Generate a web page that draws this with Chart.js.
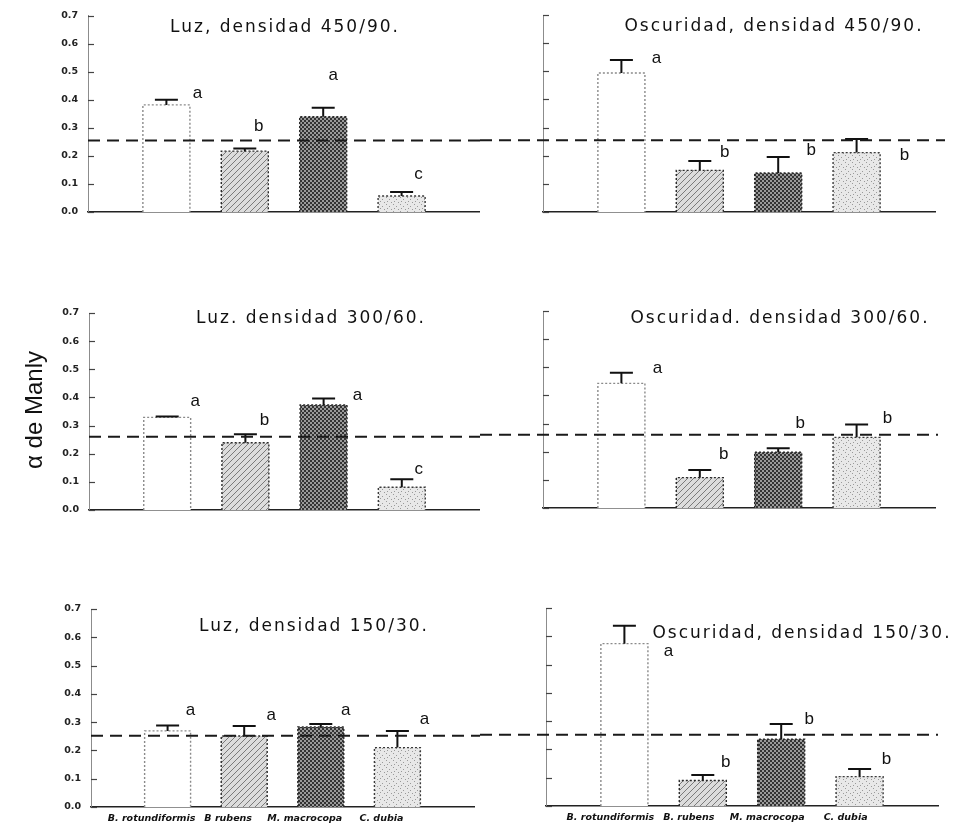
<!DOCTYPE html>
<html>
<head>
<meta charset="utf-8">
<title>alfa de Manly</title>
<script src="https://cdn.jsdelivr.net/npm/chart.js@4.4.1/dist/chart.umd.min.js"></script>
<style>
  html, body { margin: 0; padding: 0; background: #fff; }
  #page { position: relative; width: 960px; height: 824px; overflow: hidden; background: #fff; }
  #page canvas { position: absolute; }
</style>
</head>
<body>
<div id="page">
  <canvas id="luz450" width="480" height="240" style="left:0;top:0"></canvas>
  <canvas id="osc450" width="480" height="240" style="left:480px;top:0"></canvas>
  <canvas id="luz300" width="480" height="240" style="left:0;top:290px"></canvas>
  <canvas id="osc300" width="480" height="240" style="left:480px;top:290px"></canvas>
  <canvas id="luz150" width="480" height="254" style="left:0;top:570px"></canvas>
  <canvas id="osc150" width="480" height="254" style="left:480px;top:570px"></canvas>
</div>
<script>
// species on the x axis (left and right columns are printed slightly differently)
const speciesLeft = ['B. rotundiformis', 'B rubens', 'M. macrocopa', 'C. dubia'];
const speciesRight = ['B. rotundiformis', 'B. rubens', 'M. macrocopa', 'C. dubia'];
const yTickLabels = ['0.0', '0.1', '0.2', '0.3', '0.4', '0.5', '0.6', '0.7'];

// mean alpha and upper error for each species
const luz450 = [0.382, 0.217, 0.340, 0.057];
const luz450Err = [0.018, 0.009, 0.032, 0.014];
const luz450Letters = ['a', 'b', 'a', 'c'];

const osc450 = [0.494, 0.148, 0.139, 0.211];
const osc450Err = [0.046, 0.033, 0.056, 0.048];
const osc450Letters = ['a', 'b', 'b', 'b'];

const luz300 = [0.329, 0.239, 0.373, 0.081];
const luz300Err = [0.003, 0.030, 0.023, 0.028];
const luz300Letters = ['a', 'b', 'a', 'c'];

const osc300 = [0.443, 0.108, 0.198, 0.251];
const osc300Err = [0.038, 0.027, 0.014, 0.046];
const osc300Letters = ['a', 'b', 'b', 'b'];

const luz150 = [0.269, 0.251, 0.283, 0.210];
const luz150Err = [0.019, 0.035, 0.010, 0.059];
const luz150Letters = ['a', 'a', 'a', 'a'];

const osc150 = [0.574, 0.090, 0.236, 0.104];
const osc150Err = [0.063, 0.020, 0.054, 0.027];
const osc150Letters = ['a', 'b', 'b', 'b'];

// dashed reference (neutral selection) for each row
const refRow = [0.255, 0.26, 0.252];

const FONT = '"Liberation Sans", Arial, Helvetica, sans-serif';
const WIDEFONT = '"DejaVu Sans", Verdana, sans-serif';

// fill patterns for the four species
function makePattern(size, draw) {
  const c = document.createElement('canvas');
  c.width = size; c.height = size;
  const g = c.getContext('2d');
  draw(g, size);
  return g.createPattern(c, 'repeat');
}
const hatchFill = makePattern(6, (g, s) => {
  g.fillStyle = '#dcdcdc'; g.fillRect(0, 0, s, s);
  g.strokeStyle = '#7a7a7a'; g.lineWidth = 1;
  g.beginPath();
  g.moveTo(0, s); g.lineTo(s, 0);
  g.moveTo(-1, 1); g.lineTo(1, -1);
  g.moveTo(s - 1, s + 1); g.lineTo(s + 1, s - 1);
  g.stroke();
});
const darkFill = makePattern(4, (g, s) => {
  g.fillStyle = '#9a9a9a'; g.fillRect(0, 0, s, s);
  g.fillStyle = '#333333';
  g.fillRect(0, 0, 2, 2); g.fillRect(2, 2, 2, 2);
});
const stippleFill = makePattern(7, (g, s) => {
  g.fillStyle = '#e8e8e8'; g.fillRect(0, 0, s, s);
  g.fillStyle = '#9a9a9a';
  g.fillRect(1, 1, 1, 1); g.fillRect(4, 3, 1, 1); g.fillRect(2, 5, 1, 1); g.fillRect(6, 6, 1, 1);
});
const barFills = ['rgba(0,0,0,0)', '#ffffff', hatchFill, darkFill, stippleFill, 'rgba(0,0,0,0)'];
const barEdges = [null, '#8a8a8a', '#2a2a2a', '#2a2a2a', '#3a3a3a', null];

const pad = arr => [null, ...arr, null];

// outlines, error bars, letters, reference line, inward ticks, titles
const panelDecor = {
  id: 'panelDecor',
  afterDatasetsDraw(chart, args, opts) {
    const ctx = chart.ctx;
    const area = chart.chartArea;
    const y = chart.scales.y;
    const ds = chart.data.datasets[0];
    const meta = chart.getDatasetMeta(0);
    ctx.save();

    // dotted bar outlines
    meta.data.forEach((bar, i) => {
      if (ds.data[i] == null) return;
      const half = bar.width / 2;
      ctx.beginPath();
      ctx.setLineDash([2, 2]);
      ctx.lineWidth = 1.4;
      ctx.strokeStyle = barEdges[i];
      ctx.moveTo(bar.x - half, bar.base);
      ctx.lineTo(bar.x - half, bar.y);
      ctx.lineTo(bar.x + half, bar.y);
      ctx.lineTo(bar.x + half, bar.base);
      ctx.stroke();
    });

    // error bars, upper half only
    ctx.setLineDash([]);
    ctx.strokeStyle = '#111';
    ctx.lineWidth = 2;
    meta.data.forEach((bar, i) => {
      const v = ds.data[i];
      if (v == null) return;
      const top = y.getPixelForValue(v + ds.errors[i]);
      ctx.beginPath();
      ctx.moveTo(bar.x, bar.y);
      ctx.lineTo(bar.x, top);
      ctx.moveTo(bar.x - 11.5, top);
      ctx.lineTo(bar.x + 11.5, top);
      ctx.stroke();
    });

    // significance letters
    ctx.fillStyle = '#111';
    ctx.font = '17px ' + FONT;
    ctx.textAlign = 'center';
    ctx.textBaseline = 'middle';
    meta.data.forEach((bar, i) => {
      const v = ds.data[i];
      if (v == null) return;
      const top = y.getPixelForValue(v + ds.errors[i]);
      const [dx, dy] = opts.letterShift[i - 1];
      ctx.fillText(ds.letters[i], bar.x + dx, top + dy);
    });

    // dashed reference line
    const ry = y.getPixelForValue(opts.ref);
    ctx.beginPath();
    ctx.setLineDash([12, 7]);
    ctx.lineWidth = 2;
    ctx.strokeStyle = '#1a1a1a';
    ctx.moveTo(opts.refFrom == null ? area.left : opts.refFrom, ry);
    ctx.lineTo(opts.refTo, ry);
    ctx.stroke();

    // inward tick marks on the y axis
    ctx.setLineDash([]);
    ctx.lineWidth = 1.2;
    ctx.strokeStyle = '#444';
    y.ticks.forEach(t => {
      const ty = Math.round(y.getPixelForValue(t.value)) + 0.5;
      ctx.beginPath();
      ctx.moveTo(area.left, ty);
      ctx.lineTo(area.left + 6, ty);
      ctx.stroke();
    });

    // panel title
    ctx.fillStyle = '#111';
    ctx.font = '17px ' + WIDEFONT;
    ctx.textAlign = 'center';
    ctx.textBaseline = 'alphabetic';
    ctx.letterSpacing = '2px';
    ctx.fillText(opts.title, opts.titleX, opts.titleY);
    ctx.letterSpacing = '0px';

    // shared y axis title
    if (opts.yTitle) {
      ctx.translate(opts.yTitle.x, opts.yTitle.y);
      ctx.rotate(-Math.PI / 2);
      ctx.font = '24px ' + FONT;
      ctx.textAlign = 'center';
      ctx.textBaseline = 'middle';
      ctx.fillText(opts.yTitle.text, 0, 0);
    }
    ctx.restore();
  }
};

function makePanel(id, p) {
  const labels = ['', ...(p.species || speciesLeft), ''];
  return new Chart(document.getElementById(id), {
    type: 'bar',
    data: {
      labels: labels,
      datasets: [{
        data: pad(p.values),
        errors: pad(p.errors),
        letters: pad(p.letters),
        backgroundColor: barFills,
        borderWidth: 0,
        barPercentage: 0.6,
        categoryPercentage: 1
      }]
    },
    options: {
      responsive: false,
      animation: false,
      layout: { padding: { top: p.areaTop, right: p.padRight, left: 0, bottom: 0 } },
      plugins: {
        legend: { display: false },
        tooltip: { enabled: false },
        panelDecor: {
          title: p.title, titleX: p.titleX, titleY: p.titleY,
          ref: p.ref, refFrom: p.refFrom, refTo: p.refTo,
          letterShift: p.letterShift, yTitle: p.yTitle
        }
      },
      scales: {
        x: {
          type: 'category',
          offset: false,
          grid: { display: false, drawTicks: false, offset: false },
          border: { display: true, color: '#222', width: 1.5 },
          ticks: {
            display: !!p.species,
            autoSkip: false,
            maxRotation: 0,
            padding: 6,
            labelOffset: p.labelOffset || 0,
            color: '#111',
            font: { family: WIDEFONT, size: 9.5, weight: 'bold', style: 'italic' }
          },
          afterFit: s => { s.height = p.axisH; }
        },
        y: {
          min: 0,
          max: 0.7,
          grid: { display: false, drawTicks: false },
          border: { display: true, color: '#8c8c8c', width: 1, dash: [2, 2] },
          ticks: {
            display: p.showY,
            stepSize: 0.1,
            padding: 10,
            color: '#222',
            font: { family: WIDEFONT, size: 9.5, weight: 'bold' },
            callback: (v, i) => yTickLabels[i]
          },
          afterFit: s => { s.width = p.areaLeft; }
        }
      }
    },
    plugins: [panelDecor]
  });
}

makePanel('luz450', {
  values: luz450, errors: luz450Err, letters: luz450Letters, ref: refRow[0],
  title: 'Luz, densidad 450/90.', titleX: 285, titleY: 32,
  areaLeft: 88, areaTop: 15, axisH: 28, padRight: 0, showY: true,
  refFrom: null, refTo: 480,
  letterShift: [[31, -7], [14, -22], [10, -32], [17, -18]]
});
makePanel('osc450', {
  values: osc450, errors: osc450Err, letters: osc450Letters, ref: refRow[0],
  title: 'Oscuridad, densidad 450/90.', titleX: 294, titleY: 31,
  areaLeft: 63, areaTop: 15, axisH: 28, padRight: 25, showY: false,
  refFrom: 0, refTo: 465,
  letterShift: [[35, -2], [25, -9], [33, -7], [48, 16]]
});
makePanel('luz300', {
  values: luz300, errors: luz300Err, letters: luz300Letters, ref: refRow[1],
  title: 'Luz. densidad 300/60.', titleX: 311, titleY: 33,
  areaLeft: 89, areaTop: 23, axisH: 20, padRight: 0, showY: true,
  refFrom: null, refTo: 480,
  letterShift: [[28, -15], [19, -14], [34, -3], [17, -10]],
  yTitle: { text: 'α de Manly', x: 35, y: 120 }
});
makePanel('osc300', {
  values: osc300, errors: osc300Err, letters: osc300Letters, ref: refRow[1],
  title: 'Oscuridad. densidad 300/60.', titleX: 300, titleY: 33,
  areaLeft: 63, areaTop: 21, axisH: 22, padRight: 25, showY: false,
  refFrom: 0, refTo: 458,
  letterShift: [[36, -4], [24, -16], [22, -25], [31, -6]]
});
makePanel('luz150', {
  values: luz150, errors: luz150Err, letters: luz150Letters, ref: refRow[2],
  title: 'Luz, densidad 150/30.', titleX: 314, titleY: 61,
  areaLeft: 91, areaTop: 39, axisH: 17, padRight: 0, showY: true,
  refFrom: null, refTo: 480,
  letterShift: [[23, -15], [27, -11], [25, -14], [27, -12]],
  species: speciesLeft, labelOffset: -16
});
makePanel('osc150', {
  values: osc150, errors: osc150Err, letters: osc150Letters, ref: refRow[2],
  title: 'Oscuridad, densidad 150/30.', titleX: 322, titleY: 68,
  areaLeft: 66, areaTop: 38, axisH: 18, padRight: 22, showY: false,
  refFrom: 0, refTo: 458,
  letterShift: [[44, 25], [23, -13], [28, -5], [27, -10]],
  species: speciesRight, labelOffset: -14
});
</script>
</body>
</html>
